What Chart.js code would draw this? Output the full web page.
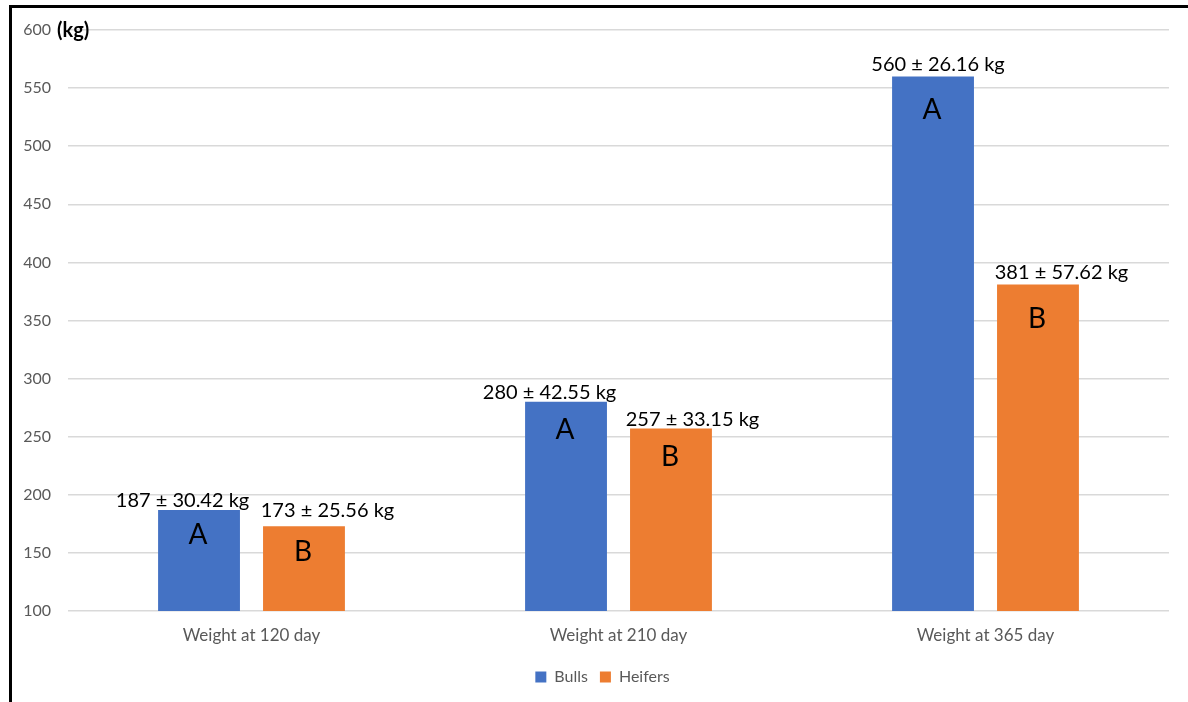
<!DOCTYPE html>
<html>
<head>
<meta charset="utf-8">
<script src="https://cdn.jsdelivr.net/npm/chart.js@4"></script>
<style>
  html, body { margin: 0; padding: 0; background: #fff; }
  #wrap { width: 1188px; height: 702px; position: relative; }
</style>
</head>
<body>
<div id="wrap"><canvas id="myChart" width="1188" height="702"></canvas></div>
<script>
const categories = ['Weight at 120 day', 'Weight at 210 day', 'Weight at 365 day'];
const bullsWeight = [187, 280, 560];
const heifersWeight = [173, 257, 381];
const bullsSD = [30.42, 42.55, 26.16];
const heifersSD = [25.56, 33.15, 57.62];
const groupLetters = ['A', 'B'];
const yMin = 100;
const yMax = 600;
const yStep = 50;

const FONT = 'Lato, "Noto Sans", sans-serif';

// the labels were nudged by hand in the original, so keep those shifts here
// [dx of value label, gap above bar, letter offset below bar top]
const labelNudge = [
  [[-16.5, 3, 25], [-16.5, 3, 28], [5, 5, 33]],
  [[23.5, 9, 25.5], [21.5, 3, 28], [23.5, 5, 34]]
];

// frame lines round the chart (left and top only, like the original)
const framePlugin = {
  id: 'frame',
  afterLayout(chart) {
    // legend sits a bit right of the canvas centre in the original
    chart.legend.left += 18;
    chart.legend.right += 18;
  },
  beforeDraw(chart) {
    const ctx = chart.ctx;
    ctx.save();
    ctx.strokeStyle = '#000';
    ctx.lineWidth = 3;
    ctx.beginPath();
    ctx.moveTo(10.5, 5);
    ctx.lineTo(10.5, 702);
    ctx.moveTo(9, 6.5);
    ctx.lineTo(1188, 6.5);
    ctx.stroke();
    ctx.restore();
  }
};

// value ± sd labels above bars and the letters inside them
const labelPlugin = {
  id: 'barLabels',
  afterDatasetsDraw(chart) {
    const ctx = chart.ctx;
    const sds = [bullsSD, heifersSD];
    ctx.save();
    chart.data.datasets.forEach((ds, di) => {
      const meta = chart.getDatasetMeta(di);
      meta.data.forEach((bar, i) => {
        const n = labelNudge[di][i];
        ctx.fillStyle = '#000';
        ctx.textAlign = 'center';
        ctx.textBaseline = 'alphabetic';
        ctx.font = '20px ' + FONT;
        ctx.fillText(ds.data[i] + ' \u00b1 ' + sds[di][i].toFixed(2) + ' kg', bar.x + n[0], bar.y - n[1]);
        ctx.textBaseline = 'middle';
        ctx.font = '28px ' + FONT;
        ctx.fillText(groupLetters[di], bar.x - 1, bar.y + n[2]);
      });
    });
    // unit next to the top tick
    const y = chart.scales.y;
    ctx.textAlign = 'left';
    ctx.textBaseline = 'middle';
    ctx.font = 'bold 20px ' + FONT;
    ctx.fillStyle = '#000';
    ctx.fillText('(kg)', 57, y.getPixelForValue(yMax) + 1);
    ctx.restore();
  }
};

const ctx = document.getElementById('myChart').getContext('2d');
const myChart = new Chart(ctx, {
  type: 'bar',
  data: {
    labels: categories,
    datasets: [{
      label: 'Bulls',
      data: bullsWeight,
      backgroundColor: '#4472C4',
      barPercentage: 0.78,
      categoryPercentage: 0.572
    }, {
      label: 'Heifers',
      data: heifersWeight,
      backgroundColor: '#ED7D31',
      barPercentage: 0.78,
      categoryPercentage: 0.572
    }]
  },
  options: {
    responsive: false,
    animation: false,
    layout: { padding: { top: 30, right: 19, bottom: 7, left: 0 } },
    plugins: {
      legend: {
        position: 'bottom',
        labels: {
          boxWidth: 11,
          boxHeight: 11,
          padding: 12,
          color: '#595959',
          font: { family: FONT, size: 16 }
        }
      },
      tooltip: { enabled: false }
    },
    scales: {
      x: {
        grid: { display: false, drawTicks: false },
        border: { display: false },
        ticks: { color: '#595959', padding: 14, font: { family: FONT, size: 17 } },
        afterFit(scale) { scale.height = 46; }
      },
      y: {
        min: yMin,
        max: yMax,
        grid: { color: '#D9D9D9', lineWidth: 1.5, drawTicks: false },
        border: { display: false },
        ticks: { stepSize: yStep, color: '#595959', padding: 17, font: { family: FONT, size: 16 } },
        afterFit(scale) { scale.width = 68; }
      }
    }
  },
  plugins: [framePlugin, labelPlugin]
});
</script>
</body>
</html>
